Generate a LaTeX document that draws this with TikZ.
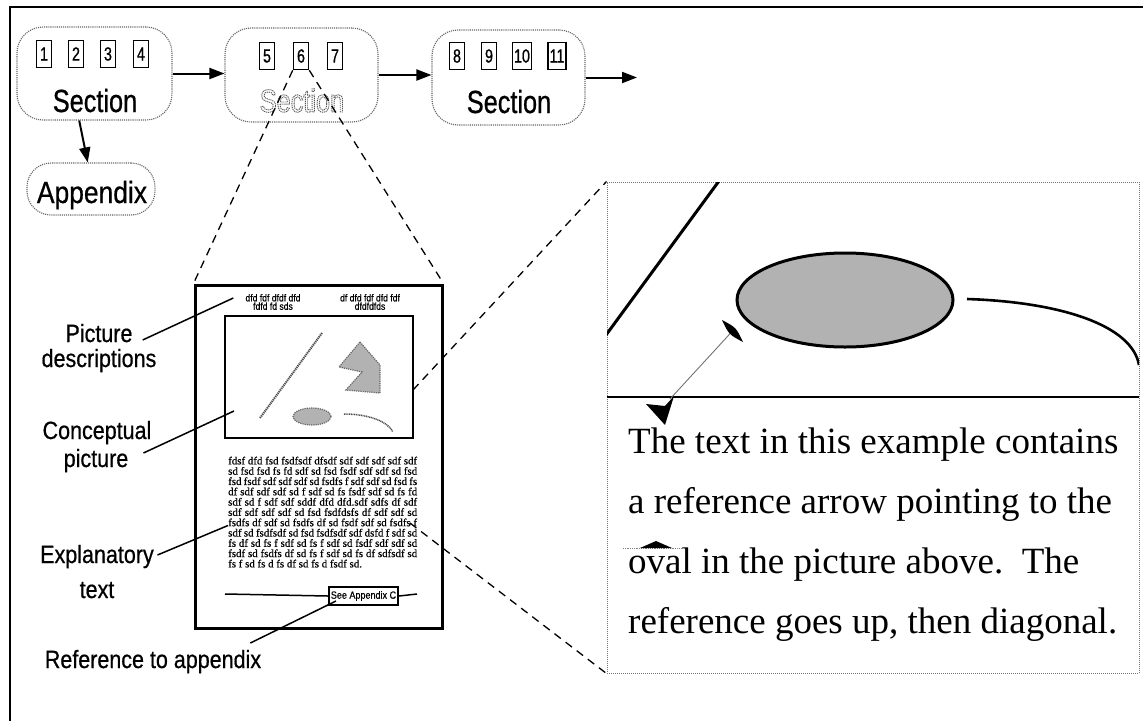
\documentclass[tikz,border=0pt]{standalone}
\usepackage{fontspec}
\setmainfont{Liberation Serif}
\newfontfamily\bodyfont[FakeBold=0.6]{Liberation Serif}
\newfontfamily\secfont[FakeStretch=0.79,FakeBold=0.7]{Liberation Sans}
\newfontfamily\hollowfont[FakeStretch=0.79]{Liberation Sans}
\newfontfamily\lblfont[FakeStretch=0.86,FakeBold=0.6]{Liberation Sans}
\newfontfamily\digfont[FakeStretch=0.75,FakeBold=0.8]{Liberation Sans}
\usetikzlibrary{arrows.meta,calc}

\tikzset{
  secbox/.style={draw=black!60, densely dotted, line width=1.1pt, rounded corners=26pt, inner sep=0pt},
  numbox/.style={draw, line width=1.6pt, inner sep=1.5pt, minimum width=15pt, minimum height=27pt,
    font=\digfont\fontsize{19}{19}\selectfont},
  seclabel/.style={font=\secfont\fontsize{32}{32}\selectfont, inner sep=0pt, anchor=base},
  flow/.style={line width=2pt, -{Triangle[length=15pt,width=11pt]}},
  zoomline/.style={dash pattern=on 8pt off 6pt, line width=1.3pt},
  callout/.style={line width=1.5pt},
  sidelabel/.style={font=\lblfont\fontsize{25}{25}\selectfont, inner sep=0pt, anchor=base},
  hdtext/.style={font=\lblfont\fontsize{10}{7}\selectfont, align=center, inner sep=0pt},
  stipple/.style={draw=black!60, densely dotted, line width=1.2pt, fill=black!30},
}

\newcommand{\bodyline}[1]{\makebox[189pt][s]{#1}}

\begin{document}
\begin{tikzpicture}[x=1pt,y=-1pt]
\useasboundingbox (0,0) rectangle (1143,721);
\fill[white] (0,0) rectangle (1143,721);

% outer frame
\draw[line width=1.6pt] (1143,7) -- (10,7) -- (10,721);

% sections of the document
\node[secbox, minimum width=155pt, minimum height=93pt] (sec1) at (94.5,73.5) {};
\node[secbox, minimum width=153pt, minimum height=94pt] (sec2) at (301.5,75) {};
\node[secbox, minimum width=153pt, minimum height=95pt] (sec3) at (508.5,77.5) {};
\node[secbox, rounded corners=24pt, minimum width=128pt, minimum height=52pt] (app) at (91,189) {};

\foreach \k/\x in {1/44,2/76,3/108,4/141} \node[numbox] (n\k) at (\x,54) {\k};
\foreach \k/\x in {5/267,6/301,7/335} \node[numbox] (n\k) at (\x,56) {\k};
\foreach \k/\x in {8/457,9/489,10/522,11/557} \node[numbox] (n\k) at (\x,56) {\k};

\node[seclabel] (s1) at (95,112) {Section};
% hollow, dotted lettering for the section being opened
\node[seclabel, font=\hollowfont\fontsize{32}{32}\selectfont, text=black!65] (s2) at (302,112)
  {\special{pdf:literal direct 1 Tr 0.9 w [1.2 0.8] 0 d}Section\special{pdf:literal direct 0 Tr [] 0 d 0.4 w}};
\node[seclabel] (s3) at (509,113) {Section};
\node[font=\lblfont\fontsize{30.7}{30}\selectfont, inner sep=0pt, anchor=base] (apptxt) at (92,203) {Appendix};

\coordinate (onward) at (637,80);
\draw[flow] (sec1.east) -- (sec1.east -| sec2.west);
\draw[flow] (sec2.east) -- (sec2.east -| sec3.west);
\draw[flow] (sec3.east) -- (sec3.east -| onward);
\draw[flow] (sec1.252) -- (app.97);

% the page of section 6
\node[draw, line width=3pt, minimum width=247pt, minimum height=343pt, inner sep=0pt] (page) at (318.5,456.5) {};
\node[draw, line width=2pt, minimum width=188pt, minimum height=122pt, inner sep=0pt] (pic) at (319,377) {};

\node[hdtext] (hd1) at (273,302) {dfd fdf dfdf dfd\\fdfd fd sds};
\node[hdtext] (hd2) at (370,302) {df dfd fdf dfd fdf\\dfdfdfds};

% conceptual picture
\draw[black!70, line width=2pt, dash pattern=on 1.2pt off 0.8pt] (260,418) -- (322,333);
\draw[stipple] (360,342) -- (380,365) -- (380,393) -- (346,390) -- (362,372) -- (339,367) -- cycle;
\draw[stipple] (312,416.5) ellipse [x radius=19pt, y radius=8.5pt];
\draw[black!70, line width=1.5pt, dash pattern=on 1pt off 0.7pt] (344,414) .. controls (370,414) and (388,422) .. (393,432);

% explanatory text
\node[anchor=north west, inner sep=0pt, align=left, font=\bodyfont\fontsize{10.9}{10.3}\selectfont] (body) at (228,456.5) {%
\bodyline{fdsf dfd fsd fsdfsdf dfsdf sdf sdf sdf sdf sdf}\\
\bodyline{sd fsd fsd fs fd sdf sd fsd fsdf sdf sdf sd fsd}\\
\bodyline{fsd fsdf sdf sdf sdf sd fsdfs f sdf sdf sd fsd fs}\\
\bodyline{df sdf sdf sdf sd f sdf sd fs fsdf sdf sd fs fd}\\
\bodyline{sdf sd f sdf sdf sddf dfd dfd.sdf sdfs df sdf}\\
\bodyline{sdf sdf sdf sdf sd fsd fsdfdsfs df sdf sdf sd}\\
\bodyline{fsdfs df sdf sd fsdfs df sd fsdf sdf sd fsdfs f}\\
\bodyline{sdf sd fsdfsdf sd fsd fsdfsdf sdf dsfd f sdf sd}\\
\bodyline{fs df sd fs f sdf sd fs f sdf sd fsdf sdf sdf sd}\\
\bodyline{fsdf sd fsdfs df sd fs f sdf sd fs df sdfsdf sd}\\
\makebox[189pt][l]{fs f sd fs d fs df sd fs d fsdf sd.}};

% reference to the appendix
\coordinate (rl) at (225,594);
\coordinate (rr) at (417,594);
\node[draw, line width=2pt, fill=white, minimum width=69pt, minimum height=18pt, inner sep=0pt,
      font=\lblfont\fontsize{10.5}{10.5}\selectfont] (seeapp) at (363.5,596) {See Appendix C};
\draw[line width=1.5pt] (rl) -- (seeapp.west);
\draw[line width=1.5pt] (seeapp.east) -- (rr);

% zoom lines from section 6 to its page
\draw[zoomline] (n6.south west) -- (page.north west);
\draw[zoomline] (n6.south east) -- (page.north east);

% side labels
\node[sidelabel] (lp1) at (99,342) {Picture};
\node[sidelabel] (lp2) at (99,367) {descriptions};
\node[sidelabel] (lc1) at (97,439) {Conceptual};
\node[sidelabel] (lc2) at (96,467) {picture};
\node[sidelabel] (le1) at (97,563) {Explanatory};
\node[sidelabel] (le2) at (97,598) {text};
\node[sidelabel] (lr) at (153,668) {Reference to appendix};

\draw[callout] ($(lp1.base east)+(10,-2)$) -- ($(hd1.west)+(-12,-4)$);
\draw[callout] ($(lc2.base east)+(15,-14)$) -- ($(pic.west)+(10,34)$);
\draw[callout] ($(le1.base east)+(3.5,-8)$) -- ($(body.north west)+(0,69)$);
\draw[callout] ($(lr.base east)+(-11,-25)$) -- ($(seeapp.south west)+(8,-5)$);

% magnified view
\node[draw=black!55, densely dotted, line width=1pt, minimum width=532pt, minimum height=491pt, inner sep=0pt] (zoom) at (873,427.5) {};
\coordinate (picpt) at (413,390);
\coordinate (txtpt) at (410,523);
\draw[zoomline] (picpt) -- (zoom.north west);
\draw[zoomline] (txtpt) -- (zoom.south west);

\begin{scope}
\clip (607,182) rectangle (1139,673);
\draw[line width=3pt] (606,335) -- (719,181);
\draw[line width=3pt, fill=black!30] (845,300) ellipse [x radius=108pt, y radius=47pt];
\draw[line width=2.6pt] (967,299) .. controls (1060,302) and (1132,325) .. (1139,365);
\draw[line width=2.4pt] (607,397) -- (1139,397);
\end{scope}

% reference arrow
\coordinate (lens) at (732.5,331);
\coordinate (foot) at (670,399);
\draw[black!55, line width=0.9pt] (lens) -- (foot);
\fill (722,320) .. controls (736.1,327.5) .. (743,342) .. controls (728.9,334.5) .. (722,320);
\fill (665,425) -- (674,396) -- (665,406) -- (646,404) -- cycle;

\node[anchor=north west, inner sep=0pt, align=left, font=\fontsize{37}{60}\selectfont] (ztext) at (628,428)
  {The text in this example contains\\a reference arrow pointing to the\\oval in the picture above.\ \ The\\reference goes up, then diagonal.};

\draw[black!50, densely dotted, line width=0.8pt] (623,548) -- (685,548);
\fill (640,548) -- (656,541) -- (672,548) -- cycle;
\end{tikzpicture}
\end{document}
